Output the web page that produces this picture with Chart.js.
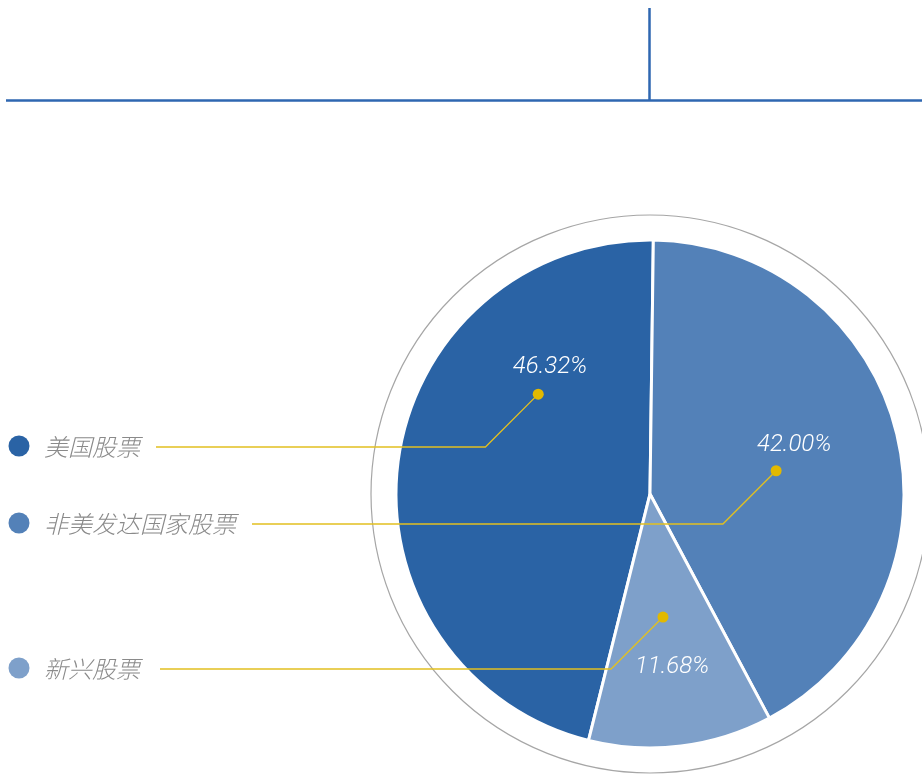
<!DOCTYPE html>
<html>
<head>
<meta charset="utf-8">
<script src="https://cdn.jsdelivr.net/npm/chart.js@4"></script>
<style>
  html, body { margin: 0; padding: 0; background: #ffffff; }
  #wrap { position: relative; width: 922px; height: 774px; }
</style>
</head>
<body>
<div id="wrap"><canvas id="c"></canvas></div>
<script>
// ---- data ----
const categories = ['美国股票', '非美发达国家股票', '新兴股票'];
const values = [46.32, 42.00, 11.68];
const valueLabels = ['46.32%', '42.00%', '11.68%'];
const colors = ['#2a63a5', '#5381b8', '#7ea0ca'];

// ---- annotation styling (positions relative to each slice) ----
const anno = {
  legendY: [447, 524, 669],
  lineStartX: [156, 252, 160],
  dotOffsetDeg: [34.4, 3.2, 1.0],
  dotRadiusFrac: [0.59, 0.505, 0.487],
  labelOffsetDeg: [44.4, -5.2, -0.25],
  labelRadiusFrac: [0.636, 0.60, 0.687]
};

const decor = {
  id: 'decor',
  beforeDatasetsDraw(chart) {
    const ctx = chart.ctx;
    const arc = chart.getDatasetMeta(0).data[0];
    if (!arc) return;
    const { x, y } = arc.getProps(['x', 'y'], true);
    ctx.save();
    ctx.beginPath();
    ctx.arc(x, y, 279, 0, Math.PI * 2);
    ctx.strokeStyle = '#a6a6a6';
    ctx.lineWidth = 1.2;
    ctx.stroke();
    ctx.strokeStyle = '#2f67b1';
    ctx.lineWidth = 2.5;
    ctx.beginPath();
    ctx.moveTo(6, 100.5); ctx.lineTo(922, 100.5);
    ctx.moveTo(649.5, 8); ctx.lineTo(649.5, 100.5);
    ctx.stroke();
    ctx.restore();
  },
  afterDatasetsDraw(chart) {
    const ctx = chart.ctx;
    const meta = chart.getDatasetMeta(0);
    ctx.save();
    meta.data.forEach((el, i) => {
      const p = el.getProps(['x', 'y', 'startAngle', 'endAngle', 'outerRadius'], true);
      const mid = (p.startAngle + p.endAngle) / 2;
      const da = mid + anno.dotOffsetDeg[i] * Math.PI / 180;
      const dx = p.x + Math.cos(da) * p.outerRadius * anno.dotRadiusFrac[i];
      const dy = p.y + Math.sin(da) * p.outerRadius * anno.dotRadiusFrac[i];
      const ly = anno.legendY[i];
      const ex = dx - (ly - dy);
      ctx.strokeStyle = '#e2c020';
      ctx.lineWidth = 1.3;
      ctx.beginPath();
      ctx.moveTo(anno.lineStartX[i], ly);
      ctx.lineTo(ex, ly);
      ctx.lineTo(dx, dy);
      ctx.stroke();
      ctx.fillStyle = '#e2b900';
      ctx.beginPath();
      ctx.arc(dx, dy, 5.5, 0, Math.PI * 2);
      ctx.fill();
      const la = mid + anno.labelOffsetDeg[i] * Math.PI / 180;
      const lx = p.x + Math.cos(la) * p.outerRadius * anno.labelRadiusFrac[i];
      const lyy = p.y + Math.sin(la) * p.outerRadius * anno.labelRadiusFrac[i];
      ctx.fillStyle = '#ffffff';
      ctx.font = "italic 300 24px Roboto";
      ctx.textAlign = 'center';
      ctx.textBaseline = 'middle';
      ctx.fillText(valueLabels[i], lx, lyy);
      ctx.fillStyle = colors[i];
      ctx.beginPath();
      ctx.arc(19, ly - 1, 10.5, 0, Math.PI * 2);
      ctx.fill();
      ctx.fillStyle = '#8a8a8a';
      ctx.font = "italic 300 24px 'Noto Sans CJK SC'";
      ctx.textAlign = 'left';
      ctx.fillText(categories[i], 44, ly);
    });
    ctx.restore();
  }
};

new Chart(document.getElementById('c'), {
  type: 'pie',
  data: {
    labels: categories,
    datasets: [{
      data: values,
      backgroundColor: colors,
      borderColor: '#ffffff',
      borderWidth: 3
    }]
  },
  options: {
    responsive: true,
    maintainAspectRatio: false,
    animation: false,
    rotation: 194,
    radius: 254,
    layout: { padding: { left: 378, right: 0, top: 222, bottom: 8 } },
    plugins: { legend: { display: false }, tooltip: { enabled: false } }
  },
  plugins: [decor]
});
</script>
</body>
</html>
